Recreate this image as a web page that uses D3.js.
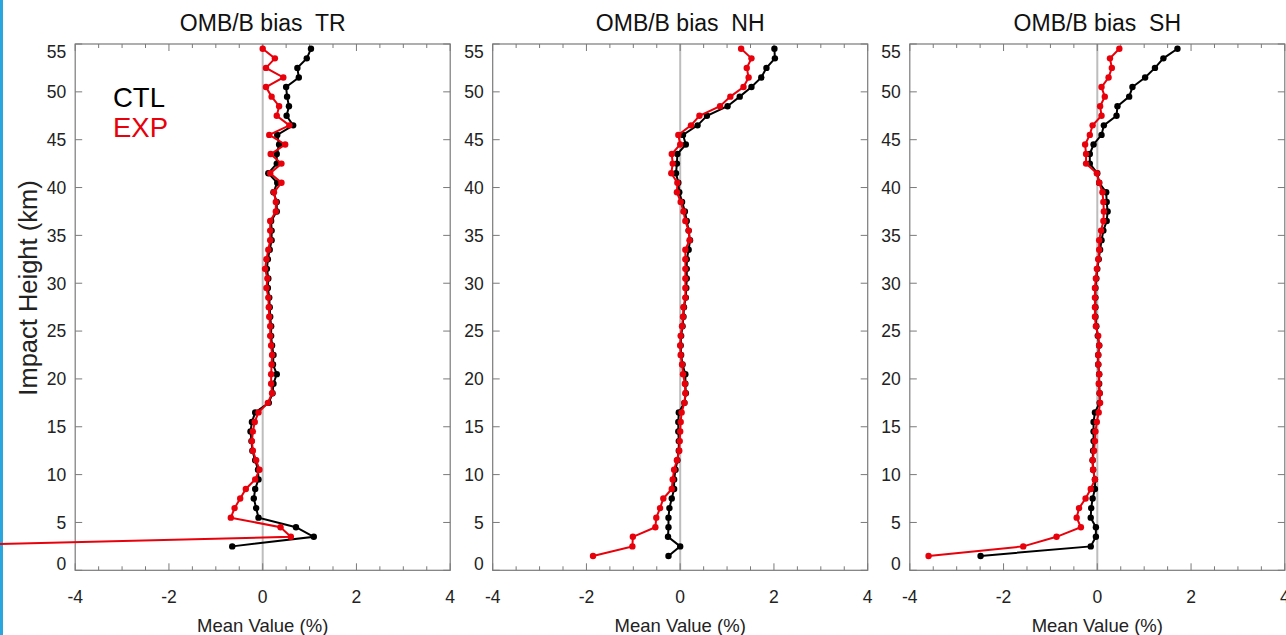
<!DOCTYPE html>
<html><head><meta charset="utf-8">
<script src="https://cdn.jsdelivr.net/npm/d3@7"></script>
<style>body{margin:0;background:#fff;} svg{display:block;font-family:"Liberation Sans",Arial,sans-serif;}</style>
</head><body>
<svg id="chart" width="1286" height="635"></svg>
<script>
// Impact heights (km), top to bottom
const heights = [54.5,53.5,52.5,51.5,50.5,49.5,48.5,47.5,46.5,45.5,44.5,43.5,42.5,41.5,40.5,39.5,38.5,37.5,36.5,35.5,34.5,33.5,32.5,31.5,30.5,29.5,28.5,27.5,26.5,25.5,24.5,23.5,22.5,21.5,20.5,19.5,18.5,17.5,16.5,15.5,14.5,13.5,12.5,11.5,10.5,9.5,8.5,7.5,6.5,5.5,4.5,3.5,2.5,1.5];
const panels = ["TR","NH","SH"];
const seriesNames = ["CTL","EXP"];
const xTicks = [-4,-2,0,2,4];
const yTicks = [0,5,10,15,20,25,30,35,40,45,50,55];

const trCTL = [1.03,0.94,0.74,0.77,0.50,0.52,0.56,0.51,0.65,0.31,0.35,0.30,0.30,0.12,0.31,0.23,0.30,0.30,0.18,0.19,0.19,0.15,0.11,0.09,0.12,0.11,0.14,0.15,0.16,0.18,0.18,0.20,0.23,0.22,0.30,0.23,0.21,0.13,-0.16,-0.23,-0.26,-0.24,-0.22,-0.16,-0.10,-0.09,-0.16,-0.19,-0.14,-0.09,0.71,1.09,-0.65,null];
const trEXP = [0.0,0.26,0.07,0.44,0.07,0.19,0.35,0.30,0.57,0.14,0.48,0.17,0.40,0.16,0.40,0.24,0.28,0.28,0.16,0.16,0.16,0.12,0.08,0.05,0.10,0.08,0.12,0.13,0.14,0.16,0.16,0.18,0.20,0.19,0.18,0.18,0.20,0.11,-0.09,-0.17,-0.21,-0.23,-0.21,-0.14,-0.07,-0.16,-0.36,-0.48,-0.60,-0.68,0.38,0.60,-7.8,null];
const nhCTL = [2.01,2.02,1.84,1.73,1.52,1.27,1.01,0.57,0.37,0.06,0.12,-0.06,-0.07,-0.09,-0.04,-0.02,0.04,0.10,0.14,0.18,0.21,0.18,0.14,0.14,0.14,0.13,0.12,0.08,0.07,0.05,0.02,0.01,0.02,0.05,0.11,0.11,0.12,0.09,-0.03,-0.04,-0.04,-0.03,-0.03,-0.06,-0.10,-0.13,-0.13,-0.18,-0.23,-0.25,-0.25,-0.26,0.0,-0.25];
const nhEXP = [1.30,1.52,1.42,1.46,1.35,1.07,0.85,0.41,0.23,-0.04,0.0,-0.18,-0.16,-0.19,-0.06,-0.07,0.01,0.07,0.11,0.18,0.20,0.11,0.11,0.11,0.11,0.11,0.11,0.07,0.06,0.04,0.01,0.0,0.01,0.04,0.06,0.10,0.11,0.09,0.03,0.01,0.0,-0.01,-0.02,-0.07,-0.13,-0.16,-0.18,-0.36,-0.43,-0.51,-0.53,-1.01,-1.02,-1.86];
const shCTL = [1.71,1.41,1.23,1.02,0.75,0.68,0.43,0.41,0.14,0.09,-0.08,-0.16,-0.16,0.0,0.04,0.19,0.20,0.22,0.20,0.13,0.09,0.06,0.03,0.0,-0.02,-0.04,-0.04,-0.04,-0.04,-0.02,0.01,0.04,0.02,0.02,0.04,0.04,0.05,0.05,-0.05,-0.08,-0.08,-0.08,-0.09,-0.10,-0.09,-0.05,-0.05,-0.10,-0.13,-0.14,-0.03,-0.03,-0.14,-2.49];
const shEXP = [0.47,0.27,0.31,0.24,0.09,0.16,0.06,0.09,-0.10,-0.16,-0.26,-0.24,-0.24,-0.01,0.04,0.11,0.13,0.14,0.13,0.08,0.04,0.04,0.02,-0.01,-0.03,-0.05,-0.05,-0.05,-0.05,-0.03,0.02,0.04,0.02,0.02,0.04,0.03,0.05,0.06,0.03,-0.01,-0.04,-0.05,-0.07,-0.10,-0.09,-0.05,-0.14,-0.25,-0.39,-0.44,-0.35,-0.87,-1.58,-3.60];

const panelData = [[trCTL,trEXP],[nhCTL,nhEXP],[shCTL,shEXP]];
const colors = ["#000000","#e8000b"];

const svg = d3.select("#chart");
svg.append("rect").attr("x",0).attr("y",0).attr("width",3).attr("height",635).attr("fill","#2aa6df");

const panelLeft = [75.2, 492.7, 909.8];
const panelW = 375;
const plotTop = 44, plotBottom = 570.3;
const y = d3.scaleLinear().domain([0,55]).range([plotBottom, plotTop]);
const axisColor = "#7a7a7a";

panels.forEach((p, i) => {
  const x = d3.scaleLinear().domain([-4,4]).range([panelLeft[i], panelLeft[i]+panelW]);
  const g = svg.append("g");
  g.append("line").attr("x1",x(0)).attr("x2",x(0)).attr("y1",y(0)).attr("y2",y(55))
    .attr("stroke","#bdbdbd").attr("stroke-width",2);
  const minor = d3.range(-4,4.01,0.5);
  minor.forEach(v => {
    const major = Math.abs(v % 2) < 1e-9;
    const len = major ? 7 : 4;
    g.append("line").attr("x1",x(v)).attr("x2",x(v)).attr("y1",plotBottom).attr("y2",plotBottom-len).attr("stroke",axisColor).attr("stroke-width",1);
    g.append("line").attr("x1",x(v)).attr("x2",x(v)).attr("y1",plotTop).attr("y2",plotTop+len).attr("stroke",axisColor).attr("stroke-width",1);
  });
  yTicks.forEach(v => {
    g.append("line").attr("x1",x(-4)).attr("x2",x(-4)+7).attr("y1",y(v)).attr("y2",y(v)).attr("stroke",axisColor);
    g.append("line").attr("x1",x(4)).attr("x2",x(4)-7).attr("y1",y(v)).attr("y2",y(v)).attr("stroke",axisColor);
    let yy = y(v);
    if (v === 0) yy -= 7;
    if (v === 55) yy += 8;
    g.append("text").attr("x",x(-4)-9).attr("y",yy).attr("dy","0.36em").attr("text-anchor","end")
      .attr("font-size",17.5).attr("fill","#222").text(v);
  });
  xTicks.forEach(v => {
    g.append("text").attr("x",x(v)).attr("y",597).attr("dy","0.36em").attr("text-anchor","middle")
      .attr("font-size",17.5).attr("fill","#222").text(v);
  });
  g.append("rect").attr("x",x(-4)).attr("y",plotTop).attr("width",panelW).attr("height",plotBottom-plotTop)
    .attr("fill","none").attr("stroke",axisColor).attr("stroke-width",1.2);
  g.append("text").attr("x",x(0)).attr("y",31).attr("text-anchor","middle").attr("font-size",23)
    .attr("fill","#111").style("white-space","pre").text("OMB/B bias  " + p);
  g.append("text").attr("x",x(0)).attr("y",625).attr("dy","0.36em").attr("text-anchor","middle")
    .attr("font-size",18.5).attr("fill","#222").text("Mean Value (%)");
  panelData[i].forEach((vals, s) => {
    const pts = heights.map((h,k) => ({h, v: vals[k]})).filter(d => d.v !== null);
    const line = d3.line().x(d => x(d.v)).y(d => y(d.h));
    g.append("path").datum(pts).attr("d",line).attr("fill","none").attr("stroke",colors[s]).attr("stroke-width",2);
    g.selectAll(null).data(pts).enter().append("circle")
      .attr("cx",d => x(d.v)).attr("cy",d => y(d.h)).attr("r",3.2).attr("fill",colors[s]);
  });
});

seriesNames.forEach((n, s) => {
  svg.append("text").attr("x",113).attr("y",[97,127][s]).attr("dy","0.36em").attr("font-size",27.5)
    .attr("fill",colors[s]).text(n);
});
svg.append("text").attr("transform","translate(28,288) rotate(-90)").attr("dy","0.36em")
  .attr("text-anchor","middle").attr("font-size",25.5).attr("fill","#222").text("Impact Height (km)");
</script>
</body></html>
